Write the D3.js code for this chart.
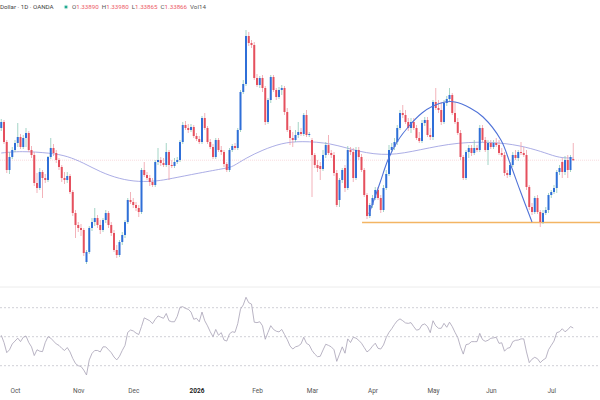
<!DOCTYPE html>
<html><head><meta charset="utf-8">
<script src="https://cdn.jsdelivr.net/npm/d3@7"></script>
<style>html,body{margin:0;padding:0;background:#fff;}svg{display:block;}</style>
</head><body><svg id="c" width="600" height="400"></svg>
<script>
// ---------- DATA ----------
const startDate = "2025-09-24";
const headerLeft = "Dollar · 1D · OANDA";
const headerLabels = ["O", "H", "L", "C", "Vol"];
const headerValues = ["1.33890", "1.33980", "1.33865", "1.33866", "14"];
const tickLabels = ["Oct","Nov","Dec","2026","Feb","Mar","Apr","May","Jun","Jul"];

const open = [
1.3451,1.3463,1.3423,1.3367,1.3393,1.3407,1.3421,1.3433,1.3413,1.3431,
1.3441,1.3407,1.3397,1.3341,1.3331,1.3363,1.3351,1.3347,1.3393,1.3411,
1.3401,1.3387,1.3373,1.3351,1.3347,1.3355,1.3323,1.3281,1.3257,1.3251,
1.3247,1.3183,1.3203,1.3251,1.3263,1.3271,1.3257,1.3247,1.3267,1.3281,
1.3257,1.3241,1.3207,1.3197,1.3223,1.3237,1.3263,1.3307,1.3303,1.3297,
1.3291,1.3283,1.3367,1.3357,1.3351,1.3343,1.3337,1.3383,1.3387,1.3381,
1.3377,1.3403,1.3377,1.3375,1.3383,1.3387,1.3423,1.3457,1.3451,1.3447,
1.3453,1.3435,1.3429,1.3423,1.3471,1.3451,1.3423,1.3413,1.3393,1.3427,
1.3407,1.3403,1.3379,1.3367,1.3407,1.3415,1.3411,1.3447,1.3523,1.3539,
1.3635,1.3621,1.3617,1.3551,1.3537,1.3551,1.3531,1.3463,1.3507,1.3553,
1.3527,1.3513,1.3527,1.3531,1.3483,1.3447,1.3431,1.3427,1.3437,1.3443,
1.3439,1.3477,1.3437,1.3427,1.3397,1.3377,1.3375,1.3369,1.3397,1.3417,
1.3401,1.3397,1.3361,1.3307,1.3347,1.3371,1.3331,1.3407,1.3403,1.3351,
1.3407,1.3393,1.3367,1.3317,1.3275,1.3297,1.3311,1.3327,1.3311,1.3287,
1.3331,1.3359,1.3407,1.3413,1.3423,1.3451,1.3481,1.3477,1.3463,1.3451,
1.3463,1.3451,1.3431,1.3425,1.3461,1.3467,1.3437,1.3433,1.3503,1.3491,
1.3487,1.3463,1.3501,1.3509,1.3517,1.3481,1.3463,1.3441,1.3393,1.3351,
1.3403,1.3411,1.3401,1.3411,1.3407,1.3451,1.3427,1.3407,1.3421,1.3413,
1.3421,1.3417,1.3401,1.3397,1.3361,1.3357,1.3377,1.3397,1.3391,1.3403,
1.3401,1.3397,1.3333,1.3293,1.3283,1.3311,1.3283,1.3263,1.3281,1.3287,
1.3317,1.3323,1.3331,1.3363,1.3383,1.3363,1.3387,1.3367,1.3389];

const close = [
1.3463,1.3423,1.3367,1.3393,1.3407,1.3421,1.3433,1.3413,1.3431,1.3441,
1.3407,1.3397,1.3341,1.3331,1.3363,1.3351,1.3347,1.3393,1.3411,1.3401,
1.3387,1.3373,1.3351,1.3347,1.3355,1.3323,1.3281,1.3257,1.3251,1.3247,
1.3201,1.3203,1.3251,1.3263,1.3271,1.3257,1.3247,1.3267,1.3281,1.3257,
1.3241,1.3207,1.3197,1.3223,1.3237,1.3263,1.3307,1.3303,1.3297,1.3291,
1.3283,1.3367,1.3357,1.3351,1.3343,1.3337,1.3383,1.3387,1.3381,1.3377,
1.3403,1.3377,1.3375,1.3383,1.3387,1.3423,1.3457,1.3451,1.3447,1.3453,
1.3435,1.3429,1.3423,1.3471,1.3451,1.3423,1.3413,1.3393,1.3427,1.3407,
1.3403,1.3379,1.3367,1.3407,1.3415,1.3411,1.3447,1.3523,1.3539,1.3635,
1.3621,1.3617,1.3551,1.3537,1.3551,1.3531,1.3463,1.3507,1.3553,1.3527,
1.3513,1.3527,1.3531,1.3483,1.3447,1.3431,1.3427,1.3437,1.3443,1.3439,
1.3477,1.3437,1.3439,1.3397,1.3377,1.3371,1.3369,1.3397,1.3417,1.3401,
1.3397,1.3361,1.3297,1.3347,1.3367,1.3331,1.3407,1.3403,1.3351,1.3407,
1.3393,1.3367,1.3317,1.3275,1.3297,1.3311,1.3327,1.3311,1.3287,1.3331,
1.3359,1.3407,1.3413,1.3423,1.3451,1.3481,1.3477,1.3463,1.3451,1.3463,
1.3451,1.3431,1.3425,1.3461,1.3467,1.3437,1.3433,1.3503,1.3491,1.3487,
1.3463,1.3501,1.3509,1.3517,1.3481,1.3463,1.3441,1.3393,1.3351,1.3403,
1.3411,1.3401,1.3411,1.3407,1.3451,1.3427,1.3407,1.3421,1.3413,1.3421,
1.3417,1.3401,1.3397,1.3361,1.3357,1.3377,1.3397,1.3391,1.3403,1.3401,
1.3397,1.3333,1.3293,1.3283,1.3311,1.3283,1.3263,1.3281,1.3287,1.3317,
1.3323,1.3331,1.3363,1.3371,1.3363,1.3387,1.3367,1.3393,1.33866];

const high = [
1.3469,1.3467,1.3427,1.3403,1.3413,1.3427,1.3461,1.3439,1.3437,1.3451,
1.3445,1.3415,1.3403,1.3361,1.3371,1.3367,1.3359,1.3395,1.3431,1.3419,
1.3407,1.3391,1.3377,1.3363,1.3363,1.3359,1.3327,1.3287,1.3263,1.3259,
1.3251,1.3207,1.3255,1.3271,1.3291,1.3277,1.3267,1.3271,1.3287,1.3285,
1.3263,1.3247,1.3217,1.3227,1.3243,1.3267,1.3311,1.3323,1.3311,1.3303,
1.3297,1.3371,1.3383,1.3363,1.3357,1.3351,1.3387,1.3411,1.3393,1.3391,
1.3421,1.3407,1.3387,1.3391,1.3393,1.3427,1.3463,1.3465,1.3459,1.3459,
1.3457,1.3441,1.3435,1.3475,1.3481,1.3455,1.3429,1.3419,1.3431,1.3431,
1.3415,1.3407,1.3383,1.3411,1.3419,1.3421,1.3451,1.3527,1.3547,1.3647,
1.3643,1.3627,1.3623,1.3559,1.3555,1.3557,1.3535,1.3511,1.3557,1.3557,
1.3531,1.3533,1.3537,1.3535,1.3491,1.3455,1.3443,1.3447,1.3463,1.3451,
1.3481,1.3487,1.3443,1.3431,1.3401,1.3387,1.3383,1.3407,1.3423,1.3437,
1.3407,1.3403,1.3367,1.3351,1.3371,1.3377,1.3415,1.3413,1.3411,1.3413,
1.3413,1.3399,1.3371,1.3321,1.3301,1.3317,1.3333,1.3333,1.3317,1.3337,
1.3367,1.3417,1.3421,1.3431,1.3457,1.3487,1.3497,1.3487,1.3471,1.3471,
1.3471,1.3457,1.3443,1.3467,1.3473,1.3473,1.3451,1.3507,1.3531,1.3507,
1.3503,1.3507,1.3515,1.3531,1.3521,1.3503,1.3471,1.3447,1.3397,1.3407,
1.3417,1.3417,1.3427,1.3417,1.3457,1.3457,1.3433,1.3427,1.3427,1.3427,
1.3431,1.3427,1.3411,1.3403,1.3367,1.3383,1.3403,1.3407,1.3407,1.3423,
1.3413,1.3407,1.3337,1.3301,1.3315,1.3317,1.3287,1.3287,1.3293,1.3321,
1.3327,1.3337,1.3367,1.3377,1.3391,1.3395,1.3397,1.3397,1.3421];

const low = [
1.3445,1.3419,1.3361,1.3359,1.3389,1.3403,1.3413,1.3409,1.3409,1.3413,
1.3403,1.3391,1.3335,1.3321,1.3327,1.3311,1.3341,1.3343,1.3389,1.3395,
1.3381,1.3367,1.3343,1.3339,1.3341,1.3319,1.3275,1.3231,1.3243,1.3235,
1.3195,1.3179,1.3199,1.3245,1.3255,1.3251,1.3239,1.3243,1.3261,1.3251,
1.3235,1.3203,1.3191,1.3193,1.3217,1.3231,1.3259,1.3299,1.3291,1.3285,
1.3273,1.3279,1.3353,1.3347,1.3335,1.3333,1.3333,1.3377,1.3375,1.3373,
1.3373,1.3347,1.3371,1.3371,1.3379,1.3383,1.3419,1.3447,1.3441,1.3443,
1.3431,1.3425,1.3419,1.3419,1.3447,1.3419,1.3409,1.3389,1.3389,1.3403,
1.3397,1.3373,1.3363,1.3363,1.3403,1.3407,1.3407,1.3443,1.3519,1.3535,
1.3615,1.3611,1.3547,1.3533,1.3531,1.3523,1.3457,1.3459,1.3501,1.3523,
1.3507,1.3509,1.3517,1.3477,1.3443,1.3417,1.3413,1.3423,1.3431,1.3435,
1.3435,1.3433,1.3433,1.3313,1.3371,1.3363,1.3347,1.3365,1.3391,1.3397,
1.3391,1.3355,1.3293,1.3293,1.3341,1.3323,1.3327,1.3397,1.3343,1.3347,
1.3387,1.3363,1.3313,1.3269,1.3271,1.3291,1.3307,1.3307,1.3281,1.3283,
1.3327,1.3355,1.3403,1.3407,1.3417,1.3447,1.3471,1.3459,1.3445,1.3441,
1.3447,1.3427,1.3421,1.3421,1.3455,1.3433,1.3427,1.3427,1.3487,1.3481,
1.3457,1.3459,1.3495,1.3503,1.3477,1.3459,1.3437,1.3387,1.3347,1.3347,
1.3391,1.3395,1.3397,1.3403,1.3403,1.3423,1.3403,1.3377,1.3409,1.3409,
1.3413,1.3397,1.3393,1.3355,1.3351,1.3353,1.3373,1.3387,1.3385,1.3397,
1.3393,1.3327,1.3287,1.3277,1.3279,1.3279,1.3253,1.3259,1.3277,1.3281,
1.3311,1.3319,1.3321,1.3357,1.3351,1.3357,1.3351,1.3363,1.3385];

const rsi = [
51,46,39,41,45,47,49,46.6,49.6,50.5,
46,43,37,41,40,39.7,46,50,49,47,
45,44,42,40.5,42.5,39.5,35,31.5,30,29.5,
27,23.6,34,38.5,40.5,40.5,39.5,43,43,41,
39,36,34,36.5,40.5,44,53,54.6,54,52.5,
51.5,57,63,62,61,59,62,64.3,63.5,62.7,
66,61,60.3,60.3,64,70.3,70.7,69.5,68.9,67,
62,62.7,60.3,67,61,57.5,53.4,50,55,51,
52.8,47.7,47,52,53.4,53,59,69,71.9,77.2,
73.4,72.5,60,59.7,60.3,57.5,48.2,53,57.6,55,
53.8,53.3,55,51.5,48,43.6,41.5,43,43.6,45,
49.6,45.4,44.3,40.5,38,36.2,36.5,40.8,44.8,44,
43,41,33,38,43,38.6,48.5,46,49.6,49,
47.5,45.5,42.5,39.5,41,43.5,45.5,42,41.5,44.3,
49.5,53,55.5,58.5,61,62.3,61,59.5,59.2,59.7,
56.9,54.5,55,58.1,58.8,57,52.8,61,57.5,55.8,
55.8,59.2,56.5,60,57,53,49.5,43,38,44.5,
45,46.6,46.6,46.6,52.3,48,46.8,47.5,48.9,49.2,
49.6,45.4,45.8,40,42,42.5,46.6,47.5,47.7,48.5,
48.5,39.5,32.1,34.5,35.8,34.8,32.1,33.9,35.1,41,
44,47,52.8,53.4,55.5,53.4,54.8,57,56];
const rsiLevels = [70, 50, 30];

// moving average (at bar positions)
const maBar = [0,7,18,24,30,36,43,50,57,61,72,82,84,89,95,102,109,120,130,141,152,166,181,191,198,203,208];
const maVal = [1.3401,1.3405,1.3401,1.3395,1.3381,1.3363,1.3349,1.3343,1.3345,1.3349,1.3361,1.3371,1.3373,1.3391,1.3407,1.3421,1.3425,1.3421,1.3403,1.3395,1.3407,1.3423,1.3423,1.3413,1.3401,1.3391,1.3391];

// drawn arc (bar position, price)
const arcBar = [133.7,137.7,140.6,143.9,148.6,153,157,161.4,165,170.5,175.2,181.7,185,188.6,193];
const arcVal = [1.3279,1.3341,1.3387,1.3423,1.3457,1.3481,1.3495,1.3503,1.3503,1.3491,1.3473,1.3427,1.3381,1.3327,1.3263];

// horizontal support level
const supportLevel = 1.3262;
const supportStartBar = 131.2;

// ---------- BUILD ----------
const W = 600, H = 400;
const svg = d3.select("#c");
const font = "Roboto, 'Open Sans', sans-serif";

const parse = d3.utcParse("%Y-%m-%d");
const dates = [];
let dd = parse(startDate);
while (dates.length < close.length) {
  const wd = dd.getUTCDay();
  if (wd !== 0 && wd !== 6) dates.push(dd);
  dd = d3.utcDay.offset(dd, 1);
}
const bars = close.map((c, i) => ({i, date: dates[i], o: open[i], h: high[i], l: low[i], c}));

const x = d3.scaleLinear().domain([0, bars.length - 1]).range([1.25, 573.25]);
const y = d3.scaleLinear().domain([1.3147, 1.3707]).range([280, 0]);
const yr = d3.scaleLinear().domain([30, 70]).range([365.7, 307.7]);

const UP = "#2f6fd8", DOWN = "#e5505e", UPW = "#8ecab9", DOWNW = "#f0a0a8";

// current price line
const last = bars[bars.length - 1];
svg.append("line").attr("x1", 0).attr("x2", W)
  .attr("y1", y(last.c)).attr("y2", y(last.c))
  .attr("stroke", "#f5c3c7").attr("stroke-width", 0.6).attr("stroke-dasharray", "1,1");

// support line
svg.append("line").attr("x1", x(supportStartBar)).attr("x2", W)
  .attr("y1", y(supportLevel)).attr("y2", y(supportLevel))
  .attr("stroke", "#f3b563").attr("stroke-width", 1.5);

// MA line
svg.append("path")
  .datum(maBar.map((b, i) => [b, maVal[i]]))
  .attr("fill", "none").attr("stroke", "#9598de").attr("stroke-width", 0.8)
  .attr("d", d3.line().x(d => x(d[0])).y(d => y(d[1])).curve(d3.curveBasis));

// candles
const g = svg.append("g");
const cg = g.selectAll("g.c").data(bars).join("g").attr("class", "c");
cg.append("line")
  .attr("x1", d => x(d.i)).attr("x2", d => x(d.i))
  .attr("y1", d => y(d.h)).attr("y2", d => y(d.l))
  .attr("stroke", d => d.c >= d.o ? UPW : DOWNW).attr("stroke-width", 0.8);
cg.append("rect")
  .attr("x", d => x(d.i) - 1)
  .attr("width", 2)
  .attr("y", d => y(Math.max(d.o, d.c)))
  .attr("height", d => Math.max(0.8, Math.abs(y(d.o) - y(d.c))))
  .attr("fill", d => d.c >= d.o ? UP : DOWN);

// arc
svg.append("path")
  .datum(arcBar.map((b, i) => [b, arcVal[i]]))
  .attr("fill", "none").attr("stroke", "#5073d8").attr("stroke-width", 1.1)
  .attr("d", d3.line().x(d => x(d[0])).y(d => y(d[1])).curve(d3.curveCatmullRom));

// pane separator
svg.append("line").attr("x1", 0).attr("x2", W).attr("y1", 287).attr("y2", 287)
  .attr("stroke", "#ececec").attr("stroke-width", 1);

// RSI levels
svg.selectAll("line.lvl").data(rsiLevels).join("line").attr("class", "lvl")
  .attr("x1", 0).attr("x2", W).attr("y1", d => yr(d)).attr("y2", d => yr(d))
  .attr("stroke", "#c4c4cb").attr("stroke-width", 0.8).attr("stroke-dasharray", "2,2");

// RSI line
svg.append("path").datum(rsi)
  .attr("fill", "none").attr("stroke", "#a7a1b5").attr("stroke-width", 0.8)
  .attr("d", d3.line().x((d, i) => x(i)).y(d => yr(d)));

// time axis
const monthIdx = bars.filter((b, i) => i > 0 && b.date.getUTCMonth() !== bars[i - 1].date.getUTCMonth()).map(b => b.i);
const axis = d3.axisBottom(x).tickValues(monthIdx).tickFormat((d, i) => tickLabels[i]).tickSize(0).tickPadding(0);
const ag = svg.append("g").attr("transform", "translate(0,388.5)").call(axis);
ag.select(".domain").remove();
ag.selectAll("text").attr("font-family", font).attr("font-size", 6.5)
  .attr("fill", (d, i) => tickLabels[i] === "2026" ? "#222" : "#555")
  .attr("font-weight", (d, i) => tickLabels[i] === "2026" ? "bold" : "normal");

// header
svg.append("text").attr("x", 0).attr("y", 9).attr("font-family", font).attr("font-size", 6.2)
  .attr("fill", "#444").text(headerLeft);
svg.append("circle").attr("cx", 66).attr("cy", 7).attr("r", 1.8).attr("fill", "#22ab94")
  .attr("stroke", "#bfe6dc").attr("stroke-width", 0.8);
const ht = svg.append("text").attr("x", 72).attr("y", 9).attr("font-family", font).attr("font-size", 6.2);
headerLabels.forEach((lab, i) => {
  ht.append("tspan").attr("fill", "#555").attr("dx", i === 0 ? 0 : 3).text(lab);
  ht.append("tspan").attr("fill", i < 4 ? "#ec5b68" : "#555").text(headerValues[i]);
});
</script></body></html>
